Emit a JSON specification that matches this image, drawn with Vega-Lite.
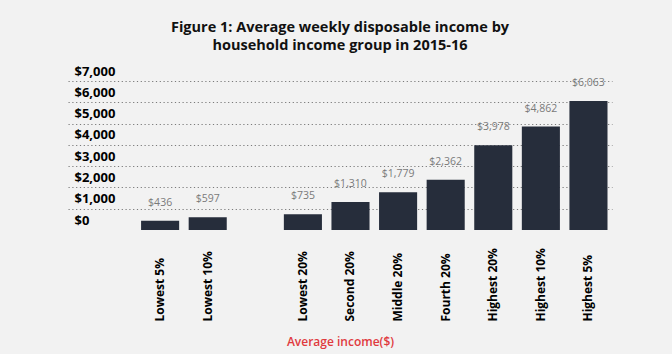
{
  "$schema": "https://vega.github.io/schema/vega-lite/v6.json",
  "autosize": "none",
  "width": 544,
  "height": 149,
  "padding": {"left": 68, "top": 81, "right": 60, "bottom": 124},
  "background": "#f2f2f2",
  "title": {
    "text": ["Figure 1: Average weekly disposable income by", "household income group in 2015-16"],
    "font": "Open Sans",
    "fontSize": 14.5,
    "fontWeight": "bold",
    "color": "#111111",
    "anchor": "middle",
    "frame": "group",
    "lineHeight": 18,
    "offset": 12
  },
  "data": {
    "values": [
      {"group": "Lowest 5%", "income": 436},
      {"group": "Lowest 10%", "income": 597},
      {"group": "Lowest 20%", "income": 735},
      {"group": "Second 20%", "income": 1310},
      {"group": "Middle 20%", "income": 1779},
      {"group": "Fourth 20%", "income": 2362},
      {"group": "Highest  20%", "income": 3978},
      {"group": "Highest 10%", "income": 4862},
      {"group": "Highest 5%", "income": 6063}
    ]
  },
  "encoding": {
    "x": {
      "field": "group",
      "type": "nominal",
      "sort": null,
      "scale": {
        "domain": ["b0", "Lowest 5%", "Lowest 10%", "b1", "Lowest 20%", "Second 20%", "Middle 20%", "Fourth 20%", "Highest  20%", "Highest 10%", "Highest 5%"],
        "paddingInner": 0.2,
        "paddingOuter": 0.315,
        "align": 0.85
      },
      "axis": {
        "title": "Average income($)",
        "titleFont": "Open Sans",
        "titleFontSize": 12,
        "titleFontWeight": 600,
        "titleColor": "#e03a3e",
        "titlePadding": 15,
        "labelExpr": "datum.value == 'b0' || datum.value == 'b1' ? '' : datum.value",
        "labelAngle": -90,
        "labelAlign": "left",
        "labelBaseline": "middle",
        "labelPadding": 91,
        "labelFont": "Open Sans",
        "labelFontSize": 12,
        "labelFontWeight": "bold",
        "labelColor": "#000000",
        "ticks": false,
        "tickSize": 0,
        "domain": false,
        "grid": false
      }
    },
    "y": {
      "field": "income",
      "type": "quantitative",
      "scale": {"domain": [0, 7000], "nice": false},
      "axis": {
        "title": null,
        "values": [0, 1000, 2000, 3000, 4000, 5000, 6000, 7000],
        "format": "$,.0f",
        "labelAlign": "left",
        "labelPadding": -6,
        "labelOffset": -10,
        "labelFont": "Open Sans",
        "labelFontSize": 13,
        "labelFontWeight": "bold",
        "labelColor": "#000000",
        "ticks": false,
        "tickSize": 0,
        "domain": false,
        "grid": true,
        "gridColor": "#7a7a7a",
        "gridDash": [1.2, 2.6],
        "gridWidth": 1.2,
        "gridOpacity": {"condition": {"test": "datum.value === 0", "value": 0}, "value": 1}
      }
    }
  },
  "layer": [
    {"mark": {"type": "bar", "color": "#262d3b"}},
    {
      "mark": {"type": "text", "baseline": "bottom", "dy": -13, "font": "Open Sans", "fontSize": 10.5, "color": "#7a7a7a"},
      "encoding": {"text": {"field": "income", "type": "quantitative", "format": "$,.0f"}}
    }
  ],
  "config": {"view": {"stroke": null}}
}
